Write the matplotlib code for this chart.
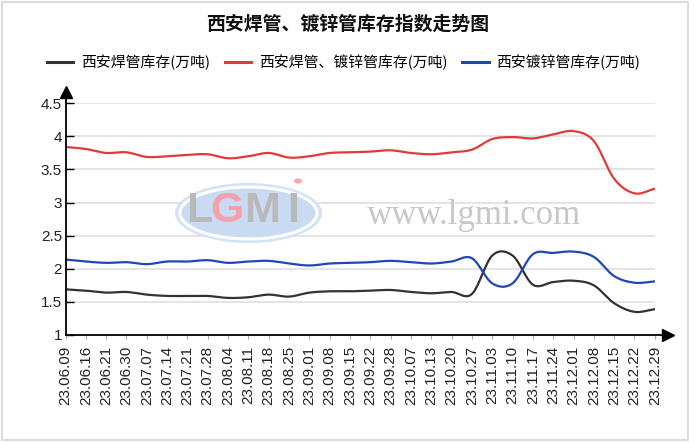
import numpy as np
import matplotlib
matplotlib.use('Agg')
import matplotlib.pyplot as plt
from matplotlib.patches import Ellipse, Rectangle, Circle

dates = ['23.06.09', '23.06.16', '23.06.21', '23.06.30', '23.07.07', '23.07.14',
         '23.07.21', '23.07.28', '23.08.04', '23.08.11', '23.08.18', '23.08.25',
         '23.09.01', '23.09.08', '23.09.15', '23.09.22', '23.09.28', '23.10.07',
         '23.10.13', '23.10.20', '23.10.27', '23.11.03', '23.11.10', '23.11.17',
         '23.11.24', '23.12.01', '23.12.08', '23.12.15', '23.12.22', '23.12.29']

weld = [1.69, 1.67, 1.64, 1.65, 1.61, 1.59, 1.59, 1.59, 1.56, 1.57,
        1.61, 1.58, 1.64, 1.66, 1.66, 1.67, 1.68, 1.65, 1.63, 1.65,
        1.62, 2.20, 2.20, 1.76, 1.80, 1.82, 1.75, 1.48, 1.35, 1.39]

total = [3.84, 3.81, 3.75, 3.76, 3.69, 3.70, 3.72, 3.73, 3.67, 3.70,
         3.75, 3.68, 3.70, 3.75, 3.76, 3.77, 3.79, 3.75, 3.73, 3.76,
         3.80, 3.96, 3.99, 3.97, 4.03, 4.08, 3.93, 3.36, 3.14, 3.21]

galv = [2.14, 2.11, 2.09, 2.10, 2.07, 2.11, 2.11, 2.13, 2.09, 2.11,
        2.12, 2.08, 2.05, 2.08, 2.09, 2.10, 2.12, 2.10, 2.08, 2.11,
        2.16, 1.78, 1.78, 2.22, 2.24, 2.26, 2.18, 1.89, 1.79, 1.81]

series_names = ['西安焊管库存(万吨)', '西安焊管、镀锌管库存(万吨)', '西安镀锌管库存(万吨)']
series_colors = ['#333333', '#e03a3a', '#1f47b5']
title = '西安焊管、镀锌管库存指数走势图'
yticks = [1, 1.5, 2, 2.5, 3, 3.5, 4, 4.5]
ytick_labels = ['1', '1.5', '2', '2.5', '3', '3.5', '4', '4.5']

CJK = ['Noto Sans CJK SC', 'DejaVu Sans']
NUM = ['Liberation Sans', 'DejaVu Sans']
NARROW = ['Liberation Sans Narrow', 'Liberation Sans', 'DejaVu Sans']


def smooth(x, y, n=20):
    """Catmull-Rom rendering of a line through the data points."""
    x = np.asarray(x, float)
    y = np.asarray(y, float)
    px = np.concatenate([[2 * x[0] - x[1]], x, [2 * x[-1] - x[-2]]])
    py = np.concatenate([[2 * y[0] - y[1]], y, [2 * y[-1] - y[-2]]])
    xs, ys = [], []
    t = np.linspace(0, 1, n, endpoint=False)
    for i in range(1, len(px) - 2):
        for arr, out in ((px, xs), (py, ys)):
            p0, p1, p2, p3 = arr[i - 1], arr[i], arr[i + 1], arr[i + 2]
            out.extend(0.5 * (2 * p1 + (-p0 + p2) * t
                              + (2 * p0 - 5 * p1 + 4 * p2 - p3) * t ** 2
                              + (-p0 + 3 * p1 - 3 * p2 + p3) * t ** 3))
    xs.append(x[-1])
    ys.append(y[-1])
    return np.array(xs), np.array(ys)


W, H = 694, 442
fig = plt.figure(figsize=(W / 100, H / 100), dpi=100)
fig.patch.set_facecolor('white')

# outer border
fig.patches.append(Rectangle((2 / W, 2 / H), (688 - 2) / W, (440 - 2) / H,
                             transform=fig.transFigure, fill=False,
                             edgecolor='#d4d4d4', linewidth=1.2))

x_left, x_right = 65.5, 654.8
y_bottom, y_top = 335.0, 103.3
ax = fig.add_axes([x_left / W, 1 - y_bottom / H, (x_right - x_left) / W,
                   (y_bottom - y_top) / H])
ax.set_facecolor('none')

x = np.arange(len(dates))
ax.set_xlim(0, len(dates) - 1)
ax.set_ylim(1, 4.5)

for s in ax.spines.values():
    s.set_visible(False)

ax.set_yticks(yticks)
ax.set_yticklabels(ytick_labels, fontfamily=NUM, fontsize=11, color='#222222')
ax.set_xticks(x)
ax.set_xticklabels(dates, rotation=90, fontfamily=NUM, fontsize=11, color='#222222')
ax.tick_params(axis='y', direction='in', length=6, width=1, color='black', pad=2.5)
ax.tick_params(axis='x', direction='out', length=3, width=0.8, color='#aaaaaa', pad=5)

for v in yticks[1:]:
    ax.axhline(v, color='#dcdcdc', linewidth=1.1, zorder=0.5)


# watermark logo
def fx(px):
    return px / W


def fy(py):
    return 1 - py / H


fig.patches.append(Ellipse((fx(248.5), fy(213)), 147 / W, 60 / H,
                           transform=fig.transFigure, facecolor='#d3e2f5',
                           edgecolor='none', zorder=0))
fig.patches.append(Ellipse((fx(248.5), fy(213)), 137 / W, 52 / H,
                           transform=fig.transFigure, facecolor='#c8dbf2',
                           edgecolor='white', linewidth=2.2, zorder=0))
fig.patches.append(Circle((fx(298), fy(181)), 4 / W, transform=fig.transFigure,
                          facecolor='#f3a6ae', edgecolor='none', zorder=0))
for letter, cx, col in [('L', 199.5, '#b9b9b9'), ('G', 227, '#f2a2aa'),
                        ('M', 262, '#b9b9b9'), ('I', 293, '#b9b9b9')]:
    fig.text(fx(cx), fy(211), letter, fontfamily=NARROW, fontsize=31,
             fontweight='bold', color=col, ha='center', va='center')
fig.text(fx(367), fy(224), 'www.lgmi.com', fontfamily=['Liberation Serif', 'DejaVu Serif'],
         fontsize=25, color='#c8c8c8', ha='left', va='baseline')

handles = []
for data, name, col in zip([weld, total, galv], series_names, series_colors):
    sx, sy = smooth(x, data)
    ax.plot(sx, sy, color=col, linewidth=1.6, zorder=3, solid_capstyle='round')
    h, = ax.plot([], [], color=col, linewidth=2.2, label=name)
    handles.append(h)

# axis lines with arrows
ax.plot([0, 0], [0, 1.03], transform=ax.transAxes, color='black', lw=1.3,
        clip_on=False, zorder=4)
ax.plot([0, 1.015], [0, 0], transform=ax.transAxes, color='black', lw=1.3,
        clip_on=False, zorder=4)
ax.plot([0], [(y_bottom - 92.5) / (y_bottom - y_top)], marker='^', markersize=9,
        color='black', transform=ax.transAxes, clip_on=False, zorder=5)
ax.plot([(668 - x_left) / (x_right - x_left)], [0], marker='>', markersize=9,
        color='black', transform=ax.transAxes, clip_on=False, zorder=5)

fig.text(348 / W, 1 - 24 / H, title, fontfamily=CJK, fontsize=13.6, fontweight='bold',
         ha='center', va='center', color='#111111')

fig.legend(handles=handles, loc='center', bbox_to_anchor=(343.5 / W, 1 - 62 / H),
           ncol=3, frameon=False, prop={'family': CJK, 'size': 10.7},
           handlelength=1.8, handletextpad=0.5, columnspacing=1.0)

fig.savefig('out.png', dpi=100, facecolor='white')
